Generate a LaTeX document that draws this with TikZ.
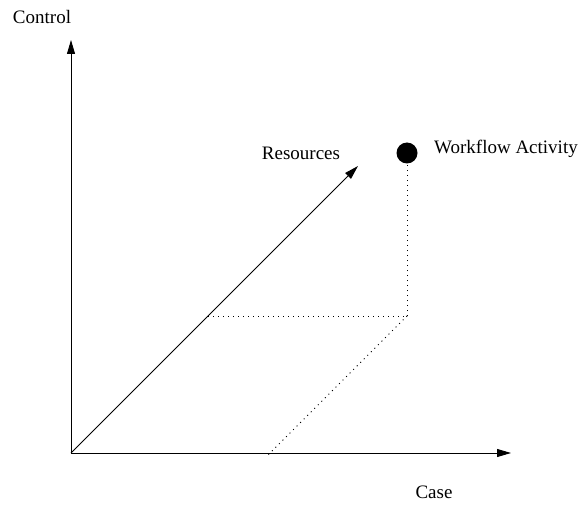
\documentclass[tikz,border=0pt]{standalone}
\usepackage{fontspec}
\setmainfont{Liberation Serif}
\usetikzlibrary{arrows.meta}
\begin{document}
\begin{tikzpicture}[x=1pt,y=-1pt,
  axis/.style={line width=0.9pt,-{Triangle[length=14pt,width=8pt]}},
  guide/.style={line width=0.9pt,dash pattern=on 1pt off 4pt},
  lbl/.style={font=\fontsize{19}{22}\selectfont,inner sep=0pt}]
\useasboundingbox (0,0) rectangle (581,505);
\coordinate (O) at (71,453);
\coordinate (Ctop) at (71,40);
\coordinate (Cright) at (511,453);
\coordinate (Rtip) at (358,166);
\coordinate (P) at (407,316);
\coordinate (Q) at (208,316);
\coordinate (S) at (268,455);
\node[circle,fill=black,minimum size=21pt,inner sep=0pt] (wa) at (407,153) {};
\draw[axis] (O) -- (Ctop);
\draw[axis] (O) -- (Cright);
\draw[axis] (O) -- (Rtip);
\draw[guide] (Q) -- (P);
\draw[guide] (P) -- (wa.south);
\draw[guide] (P) -- (S);
\node[lbl] (ctl) at (42,17) {Control};
\node[lbl] (res) at (301,153) {Resources};
\node[lbl,anchor=west] (wal) at (434,149) {Workflow Activity};
\node[lbl] (case) at (434,492) {Case};
\end{tikzpicture}
\end{document}
